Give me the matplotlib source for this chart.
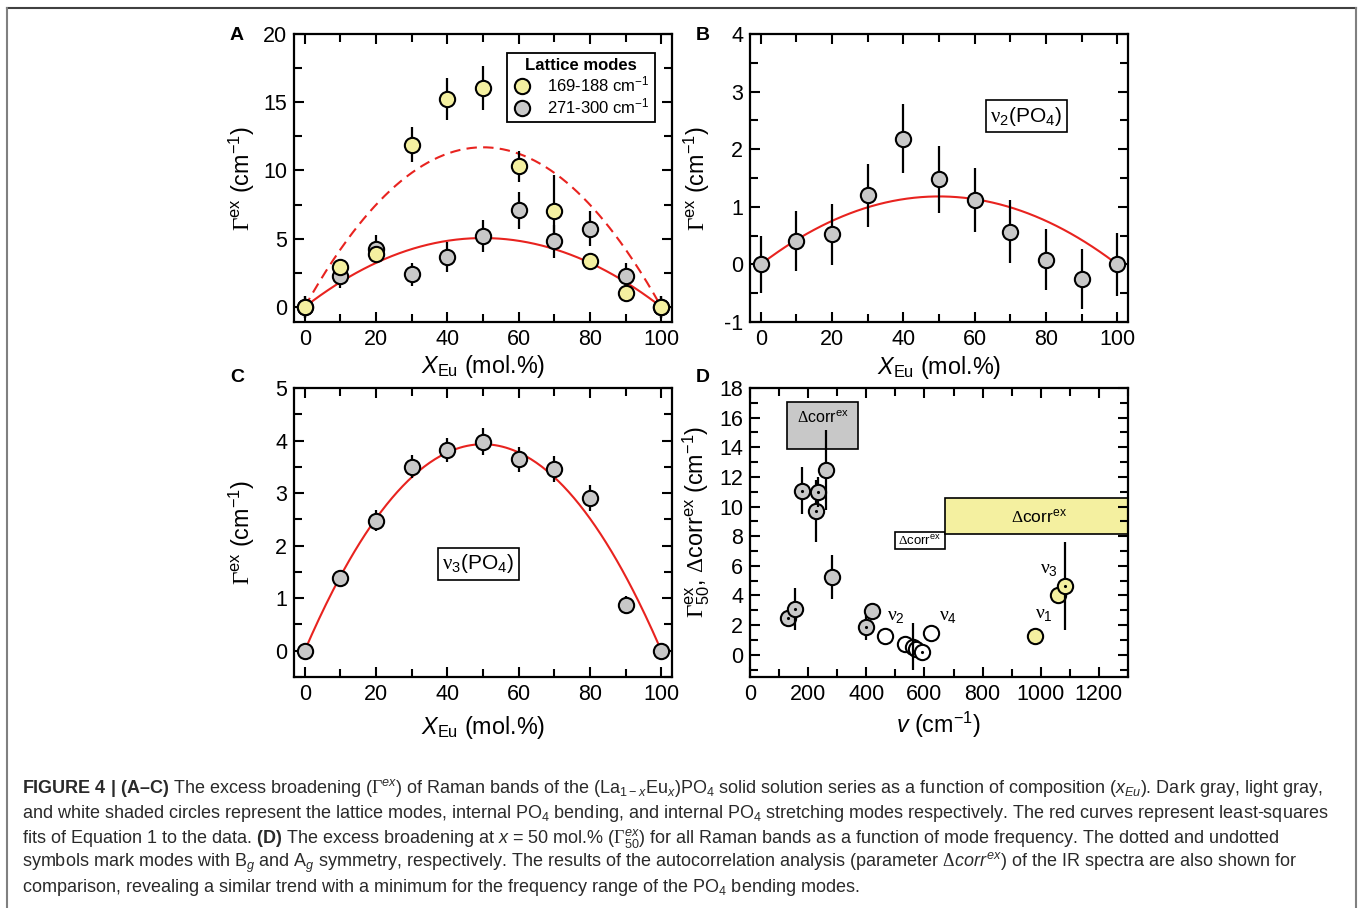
import numpy as np
import matplotlib
matplotlib.use('Agg')
import matplotlib.pyplot as plt
from matplotlib.patches import Rectangle
from matplotlib.lines import Line2D
from matplotlib.ticker import MultipleLocator

plt.rcParams.update({
    'font.family': ['Liberation Sans', 'DejaVu Sans'],
    'mathtext.fontset': 'custom',
    'mathtext.rm': 'Liberation Sans',
    'mathtext.it': 'Liberation Sans:italic',
    'mathtext.bf': 'Liberation Sans:bold',
    'mathtext.tt': 'Liberation Serif',
    'mathtext.sf': 'Liberation Sans',
    'mathtext.default': 'regular',
    'axes.unicode_minus': False,
})

# ---------------- data ----------------
x_comp = [0, 10, 20, 30, 40, 50, 60, 70, 80, 90, 100]

# Panel A: lattice modes
A_yellow = [0.0, 2.9, 3.9, 11.9, 15.25, 16.05, 10.3, 7.0, 3.35, 1.0, 0.0]
A_yellow_err = [0.8, 0.6, 0.6, 1.25, 1.55, 1.6, 1.15, 2.7, 0.5, 0.3, 0.8]
A_gray = [0.0, 2.25, 4.25, 2.4, 3.65, 5.2, 7.1, 4.8, 5.75, 2.3, 0.0]
A_gray_err = [0.8, 0.85, 1.05, 0.85, 1.1, 1.2, 1.35, 1.2, 1.3, 0.9, 0.8]
A_fit_yellow_peak = 11.7
A_fit_gray_peak = 5.05

# Panel B: nu2(PO4)
B_vals = [0.0, 0.40, 0.52, 1.2, 2.18, 1.48, 1.12, 0.57, 0.08, -0.25, 0.0]
B_err = [0.5, 0.52, 0.53, 0.55, 0.6, 0.58, 0.56, 0.54, 0.53, 0.52, 0.54]
B_fit_peak = 1.18

# Panel C: nu3(PO4)
C_vals = [0.0, 1.39, 2.47, 3.5, 3.82, 3.98, 3.64, 3.46, 2.91, 0.87, 0.0]
C_err = [0.1, 0.07, 0.2, 0.22, 0.22, 0.25, 0.24, 0.25, 0.25, 0.18, 0.12]
C_fit_peak = 3.93

# Panel D: excess broadening at x = 50 mol.%
D_freq_gray = [129, 154, 178, 226, 234, 263, 283, 400, 418]
D_gamma_gray = [2.48, 3.09, 11.07, 9.71, 11.0, 12.49, 5.26, 1.85, 2.94]
D_err_gray = [0.0, 1.4, 1.6, 2.1, 1.0, 2.7, 1.5, 0.85, 0.0]
D_dot_gray = [True, True, True, True, True, False, False, True, False]

D_freq_white = [466, 534, 560, 572, 592, 623]
D_gamma_white = [1.24, 0.72, 0.55, 0.38, 0.22, 1.47]
D_err_white = [0.0, 0.0, 1.6, 0.0, 0.0, 0.0]
D_dot_white = [False, False, False, False, True, False]

D_freq_yellow = [979, 1059, 1083]
D_gamma_yellow = [1.24, 4.0, 4.63]
D_err_yellow = [0.0, 0.0, 2.95]
D_dot_yellow = [False, False, True]

# Delta corr^ex ranges: (freq_min, freq_max, value_min, value_max)
corr_gray = (128, 371, 13.87, 17.05)
corr_white = (497, 670, 7.11, 8.31)
corr_yellow = (670, 1300, 8.13, 10.59)

# ---------------- style ----------------
YEL = '#f4f0a0'
GRY = '#c8c8c8'
RED = '#e8231f'
MS = 11.0
MEW = 1.5
TICK_FS = 15.5
LAB_FS = 16.8

W, H = 1358, 908
fig = plt.figure(figsize=(W / 100, H / 100), dpi=100)


def ax_at(l, t, r, b):
    return fig.add_axes([l / W, 1 - b / H, (r - l) / W, (b - t) / H])


def style_axes(ax):
    for s in ax.spines.values():
        s.set_linewidth(1.6)
    ax.tick_params(which='both', direction='in', top=True, right=True,
                   labelsize=TICK_FS, width=1.5, pad=5)
    ax.tick_params(which='major', length=7.5)
    ax.tick_params(which='minor', length=5.5)


def fit_curve(peak):
    xs = np.linspace(0, 100, 201)
    f = xs / 100.0
    return xs, 4 * peak * f * (1 - f)


ylab = r'$\mathtt{Γ}^{ex}$ (cm$^{-1}$)'
xlab = r'$\mathit{X}_{Eu}$ (mol.%)'

# ----- Panel A -----
axA = ax_at(294, 34, 672, 322)
style_axes(axA)
xs, ys = fit_curve(A_fit_yellow_peak)
axA.plot(xs, ys, color=RED, lw=1.5, ls=(0, (5, 3)), zorder=1)
xs, ys = fit_curve(A_fit_gray_peak)
axA.plot(xs, ys, color=RED, lw=1.5, zorder=1)
axA.errorbar(x_comp, A_gray, yerr=A_gray_err, fmt='none', ecolor='black', elinewidth=1.6, zorder=2)
axA.errorbar(x_comp, A_yellow, yerr=A_yellow_err, fmt='none', ecolor='black', elinewidth=1.6, zorder=2)
axA.plot(x_comp, A_gray, 'o', ms=MS, mfc=GRY, mec='black', mew=MEW, zorder=3)
axA.plot(x_comp, A_yellow, 'o', ms=MS, mfc=YEL, mec='black', mew=MEW, zorder=4)
axA.set_xlim(-3, 103)
axA.set_ylim(-1.1, 20)
axA.xaxis.set_major_locator(MultipleLocator(20))
axA.xaxis.set_minor_locator(MultipleLocator(10))
axA.yaxis.set_major_locator(MultipleLocator(5))
axA.yaxis.set_minor_locator(MultipleLocator(2.5))
axA.set_xlabel(xlab, fontsize=LAB_FS)
axA.set_ylabel(ylab, fontsize=LAB_FS)
axA.xaxis.set_label_coords(0.5, -0.108)
axA.yaxis.set_label_coords(-0.097, 0.5)
h1 = Line2D([], [], marker='o', ls='none', ms=MS, mfc=YEL, mec='black', mew=MEW)
h2 = Line2D([], [], marker='o', ls='none', ms=MS, mfc=GRY, mec='black', mew=MEW)
leg = axA.legend([h1, h2], ['169-188 cm$^{-1}$', '271-300 cm$^{-1}$'],
                 title='Lattice modes', loc='upper right', bbox_to_anchor=(0.955, 0.935),
                 fontsize=12, title_fontproperties={'weight': 'bold', 'size': 12},
                 frameon=True, fancybox=False, edgecolor='black', framealpha=1,
                 handletextpad=0.9, borderpad=0.3, labelspacing=0.12, handlelength=1.2,
                 borderaxespad=0)
leg.get_frame().set_linewidth(1.3)
leg.set_zorder(10)

# ----- Panel B -----
axB = ax_at(750, 34, 1128, 322)
style_axes(axB)
xs, ys = fit_curve(B_fit_peak)
axB.plot(xs, ys, color=RED, lw=1.5, zorder=1)
axB.errorbar(x_comp, B_vals, yerr=B_err, fmt='none', ecolor='black', elinewidth=1.6, zorder=2)
axB.plot(x_comp, B_vals, 'o', ms=MS, mfc=GRY, mec='black', mew=MEW, zorder=3)
axB.set_xlim(-3, 103)
axB.set_ylim(-1, 4)
axB.xaxis.set_major_locator(MultipleLocator(20))
axB.xaxis.set_minor_locator(MultipleLocator(10))
axB.yaxis.set_major_locator(MultipleLocator(1))
axB.yaxis.set_minor_locator(MultipleLocator(0.5))
axB.set_xlabel(xlab, fontsize=LAB_FS)
axB.set_ylabel(ylab, fontsize=LAB_FS)
axB.xaxis.set_label_coords(0.5, -0.112)
axB.yaxis.set_label_coords(-0.1, 0.5)
axB.text(0.731, 0.715, r'$\mathtt{ν}_2$(PO$_4$)', transform=axB.transAxes, ha='center', va='center',
         fontsize=15, bbox=dict(boxstyle='square,pad=0.22', fc='white', ec='black', lw=1.2))

# ----- Panel C -----
axC = ax_at(294, 388, 672, 677)
style_axes(axC)
xs, ys = fit_curve(C_fit_peak)
axC.plot(xs, ys, color=RED, lw=1.5, zorder=1)
axC.errorbar(x_comp, C_vals, yerr=C_err, fmt='none', ecolor='black', elinewidth=1.6, zorder=2)
axC.plot(x_comp, C_vals, 'o', ms=MS, mfc=GRY, mec='black', mew=MEW, zorder=3)
axC.set_xlim(-3, 103)
axC.set_ylim(-0.5, 5)
axC.xaxis.set_major_locator(MultipleLocator(20))
axC.xaxis.set_minor_locator(MultipleLocator(10))
axC.yaxis.set_major_locator(MultipleLocator(1))
axC.yaxis.set_minor_locator(MultipleLocator(0.5))
axC.set_xlabel(xlab, fontsize=LAB_FS)
axC.set_ylabel(ylab, fontsize=LAB_FS)
axC.xaxis.set_label_coords(0.5, -0.128)
axC.yaxis.set_label_coords(-0.097, 0.5)
axC.text(0.487, 0.392, r'$\mathtt{ν}_3$(PO$_4$)', transform=axC.transAxes, ha='center', va='center',
         fontsize=15, bbox=dict(boxstyle='square,pad=0.22', fc='white', ec='black', lw=1.2))

# ----- Panel D -----
axD = ax_at(750, 388, 1128, 677)
style_axes(axD)
for (f0, f1, v0, v1), fc in [(corr_gray, GRY), (corr_white, 'white'), (corr_yellow, YEL)]:
    axD.add_patch(Rectangle((f0, v0), f1 - f0, v1 - v0, fc=fc, ec='black', lw=1.2, zorder=1, clip_on=True))
axD.text(0.5 * (corr_gray[0] + corr_gray[1]), 16.0, r'$\mathtt{Δ}$corr$^{ex}$', ha='center', va='center', fontsize=11.5, zorder=2)
axD.text(0.5 * (corr_white[0] + corr_white[1]), 7.65, r'$\mathtt{Δ}$corr$^{ex}$', ha='center', va='center', fontsize=9.5, zorder=2)
axD.text(994, 9.37, r'$\mathtt{Δ}$corr$^{ex}$', ha='center', va='center', fontsize=12.5, zorder=2)

z = 3
groups = [(D_freq_gray, D_gamma_gray, D_err_gray, D_dot_gray, GRY),
          (D_freq_white, D_gamma_white, D_err_white, D_dot_white, 'white'),
          (D_freq_yellow, D_gamma_yellow, D_err_yellow, D_dot_yellow, YEL)]
for fr, gm, er, dt, col in groups:
    for f, g, e, d in zip(fr, gm, er, dt):
        if e > 0:
            ez = 40 if col == 'white' else z
            axD.errorbar([f], [g], yerr=[e], fmt='none', ecolor='black', elinewidth=1.6, zorder=ez)
        axD.plot([f], [g], 'o', ms=MS, mfc=col, mec='black', mew=MEW, zorder=z + 1)
        if d:
            axD.plot([f], [g], '.', ms=2.5, color='black', zorder=z + 1.5)
        z += 2

axD.text(503, 2.6, r'$\mathtt{ν}_2$', fontsize=14, ha='center', va='center')
axD.text(680, 2.55, r'$\mathtt{ν}_4$', fontsize=14, ha='center', va='center')
axD.text(1012, 2.7, r'$\mathtt{ν}_1$', fontsize=14, ha='center', va='center')
axD.text(1028, 5.75, r'$\mathtt{ν}_3$', fontsize=14, ha='center', va='center')

axD.set_xlim(0, 1300)
axD.set_ylim(-1.5, 18)
axD.xaxis.set_major_locator(MultipleLocator(200))
axD.xaxis.set_minor_locator(MultipleLocator(100))
axD.yaxis.set_major_locator(MultipleLocator(2))
axD.yaxis.set_minor_locator(MultipleLocator(1))
axD.set_xlabel(r'$\mathit{v}$ (cm$^{-1}$)', fontsize=LAB_FS)
axD.set_ylabel(r'$\mathtt{Γ}^{ex}_{50}$, $\mathtt{Δ}$corr$^{ex}$ (cm$^{-1}$)', fontsize=LAB_FS)
axD.xaxis.set_label_coords(0.5, -0.112)
axD.yaxis.set_label_coords(-0.1, 0.536)

# panel letters
for lab, px, py in [('A', 237, 35), ('B', 703, 35), ('C', 237, 378), ('D', 703, 378)]:
    fig.text(px / W, 1 - py / H, lab, fontsize=14, fontweight='bold', ha='center', va='center')

# frame
fig.add_artist(Line2D([7 / W, 1356 / W], [1 - 8 / H, 1 - 8 / H], transform=fig.transFigure, color='#404040', lw=1.5))
fig.add_artist(Line2D([7 / W, 7 / W], [1 - 8 / H, 0], transform=fig.transFigure, color='#808080', lw=1.5))
fig.add_artist(Line2D([1356 / W, 1356 / W], [1 - 8 / H, 0], transform=fig.transFigure, color='#808080', lw=1.5))

# caption
cap_lines = [
    r'$\mathbf{FIGURE\ 4\ |\ (A–C)}$ The excess broadening ($\mathtt{Γ}^{\mathit{ex}}$) of Raman bands of the (La$_{1-\mathit{x}}$Eu$_{\mathit{x}}$)PO$_4$ solid solution series as a function of composition ($\mathit{x}_{\mathit{Eu}}$). Dark gray, light gray,',
    r'and white shaded circles represent the lattice modes, internal PO$_4$ bending, and internal PO$_4$ stretching modes respectively. The red curves represent least-squares',
    r'fits of Equation 1 to the data. $\mathbf{(D)}$ The excess broadening at $\mathit{x}$ = 50 mol.% ($\mathtt{Γ}^{\mathit{ex}}_{50}$) for all Raman bands as a function of mode frequency. The dotted and undotted',
    r'symbols mark modes with B$_{\mathit{g}}$ and A$_{\mathit{g}}$ symmetry, respectively. The results of the autocorrelation analysis (parameter $\mathtt{Δ}\mathit{corr}^{\mathit{ex}}$) of the IR spectra are also shown for',
    r'comparison, revealing a similar trend with a minimum for the frequency range of the PO$_4$ bending modes.',
]
for i, line in enumerate(cap_lines):
    fig.text(22 / W, 1 - (793 + 24.8 * i) / H, line, fontsize=13.0, color='#2a2a2a',
             ha='left', va='baseline')

fig.savefig('out.png', dpi=100)
